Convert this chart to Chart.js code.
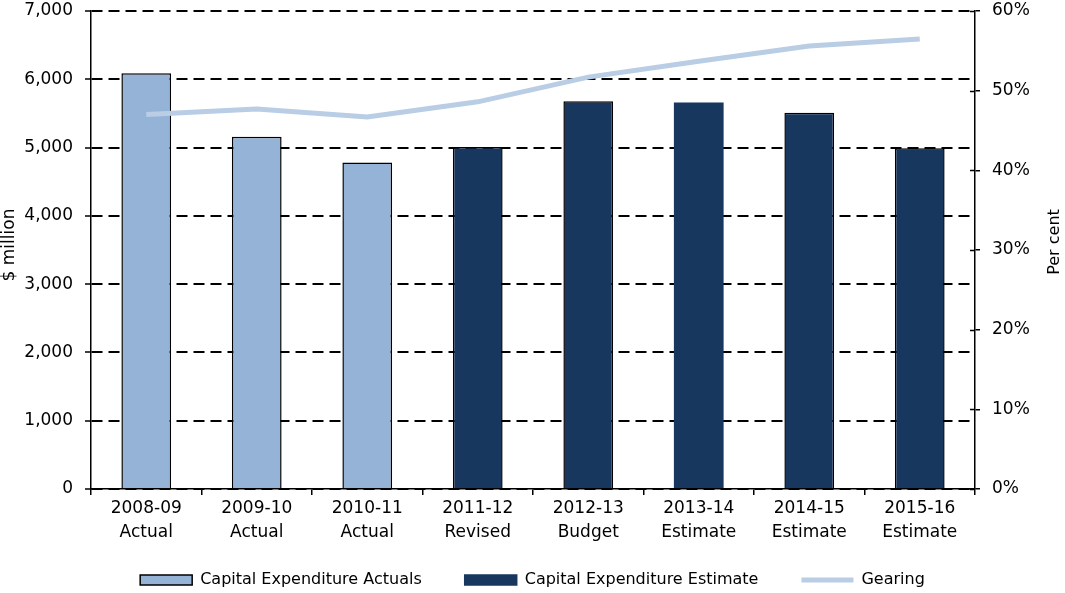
<!DOCTYPE html>
<html>
<head>
<meta charset="utf-8">
<script src="https://cdn.jsdelivr.net/npm/chart.js@4/dist/chart.umd.min.js"></script>
<style>
  html, body { margin: 0; padding: 0; background: #fff; }
  #wrap { width: 1065px; height: 593px; position: relative; }
</style>
</head>
<body>
<div id="wrap"><canvas id="c" width="1065" height="593"></canvas></div>
<script>
const categories = [
  ["2008-09", "Actual"], ["2009-10", "Actual"], ["2010-11", "Actual"], ["2011-12", "Revised"],
  ["2012-13", "Budget"], ["2013-14", "Estimate"], ["2014-15", "Estimate"], ["2015-16", "Estimate"]
];
const capexActuals = [6090, 5160, 4780, null, null, null, null, null];
const capexEstimate = [null, null, null, 5010, 5680, 5660, 5510, 4990];
const gearing = [47.0, 47.7, 46.7, 48.6, 51.7, 53.7, 55.6, 56.5];
const leftTicks = [0, 1000, 2000, 3000, 4000, 5000, 6000, 7000];
const rightTicks = [0, 10, 20, 30, 40, 50, 60];
const leftTitle = '$ million';
const rightTitleText = 'Per cent';

const FONT = "'DejaVu Sans', Verdana, sans-serif";
const LIGHT = '#95B3D7';
const DARK = '#17375E';
const LINE = '#B9CDE5';

function drawVTitle(ctx, text, x, y, size) {
  ctx.save();
  ctx.translate(x, y);
  ctx.rotate(-Math.PI / 2);
  ctx.font = size + "px " + FONT;
  ctx.fillStyle = '#000';
  ctx.textAlign = 'center';
  ctx.textBaseline = 'middle';
  ctx.fillText(text, 0, 0);
  ctx.restore();
}

const extras = {
  id: 'extras',
  beforeLayout(chart) {
    const lg = chart.legend;
    if (lg && !lg._patched) {
      const orig = lg.fit.bind(lg);
      lg.fit = function () { orig(); this.height = 40; };
      lg._patched = true;
    }
  },
  afterLayout(chart) {
    const lg = chart.legend;
    if (lg) {
      lg.top = 529;
      lg.bottom = 593;
      lg.height = 64;
    }
  },
  afterDraw(chart) {
    const ctx = chart.ctx;
    const s = chart.scales.y2;
    ctx.save();
    ctx.strokeStyle = '#000';
    ctx.lineWidth = 1.5;
    ctx.beginPath();
    rightTicks.forEach(v => {
      const py = Math.round(s.getPixelForValue(v)) + 0.5;
      ctx.moveTo(s.left - 5, py);
      ctx.lineTo(s.left, py);
    });
    ctx.stroke();
    ctx.restore();
    drawVTitle(ctx, leftTitle, 10, 245, 17);
    drawVTitle(ctx, rightTitleText, 1055, 242, 16);
  }
};

function noVPad(s) { s.paddingTop = 0; s.paddingBottom = 0; }

new Chart(document.getElementById('c'), {
  data: {
    labels: categories,
    datasets: [
      {
        type: 'line', label: 'Gearing', data: gearing, yAxisID: 'y2',
        borderColor: LINE, backgroundColor: LINE, borderWidth: 5,
        pointRadius: 0, tension: 0, order: 0
      },
      {
        type: 'bar', label: 'Capital Expenditure Actuals', data: capexActuals, yAxisID: 'y',
        backgroundColor: LIGHT, borderColor: '#000', borderWidth: 1.5,
        grouped: false, order: 1
      },
      {
        type: 'bar', label: 'Capital Expenditure Estimate', data: capexEstimate, yAxisID: 'y',
        backgroundColor: DARK, borderColor: '#000',
        borderWidth: [1.5, 1.5, 1.5, 1.5, 1.5, 0, 1.5, 1.5],
        grouped: false, order: 1
      }
    ]
  },
  options: {
    responsive: false,
    animation: false,
    layout: { padding: { top: 11, left: 0, right: 0, bottom: 4 } },
    datasets: { bar: { categoryPercentage: 1, barPercentage: 0.45 } },
    plugins: {
      tooltip: { enabled: false },
      legend: {
        position: 'bottom',
        labels: {
          font: { family: FONT, size: 16 },
          color: '#000',
          usePointStyle: true,
          pointStyleWidth: 52,
          boxHeight: 10,
          padding: 43,
          generateLabels(chart) {
            const ds = chart.data.datasets;
            return [
              { text: ds[1].label, fillStyle: LIGHT, strokeStyle: '#000', lineWidth: 1.5, pointStyle: 'rect', datasetIndex: 1, fontColor: '#000' },
              { text: ds[2].label, fillStyle: DARK, strokeStyle: DARK, lineWidth: 1.5, pointStyle: 'rect', datasetIndex: 2, fontColor: '#000' },
              { text: ds[0].label, fillStyle: LINE, strokeStyle: LINE, lineWidth: 5, pointStyle: 'line', datasetIndex: 0, fontColor: '#000' }
            ];
          }
        }
      }
    },
    scales: {
      x: {
        offset: true,
        grid: { display: true, drawOnChartArea: false, drawTicks: true, tickLength: 6, color: '#000', lineWidth: 1.5, offset: true },
        border: { display: true, color: '#000', width: 1.5 },
        ticks: { font: { family: FONT, size: 17, lineHeight: 1.41 }, color: '#000', padding: 2, maxRotation: 0, autoSkip: false },
        afterFit(s) { s.height = 60; }
      },
      y: {
        position: 'left',
        min: 0, max: 7000,
        afterBuildTicks(s) { s.ticks = leftTicks.map(v => ({ value: v })); },
        grid: { color: '#000', lineWidth: 2, tickLength: 6, tickBorderDash: [], tickColor: '#000', tickWidth: 1.5 },
        border: { display: true, color: '#000', width: 1.5, dash: [11, 6] },
        ticks: {
          font: { family: FONT, size: 17 }, color: '#000', padding: 12,
          callback: v => v.toLocaleString('en-US')
        },
        afterFit(s) { s.width = 91; noVPad(s); }
      },
      y2: {
        position: 'right',
        min: 0, max: 60,
        afterBuildTicks(s) { s.ticks = rightTicks.map(v => ({ value: v })); },
        grid: { drawOnChartArea: false, color: '#000', lineWidth: 1.5, tickLength: 5 },
        border: { display: true, color: '#000', width: 1.5 },
        ticks: { font: { family: FONT, size: 17 }, color: '#000', padding: 12, callback: v => v + '%' },
        afterFit(s) { s.width = 90; noVPad(s); }
      }
    }
  },
  plugins: [extras]
});
</script>
</body>
</html>
